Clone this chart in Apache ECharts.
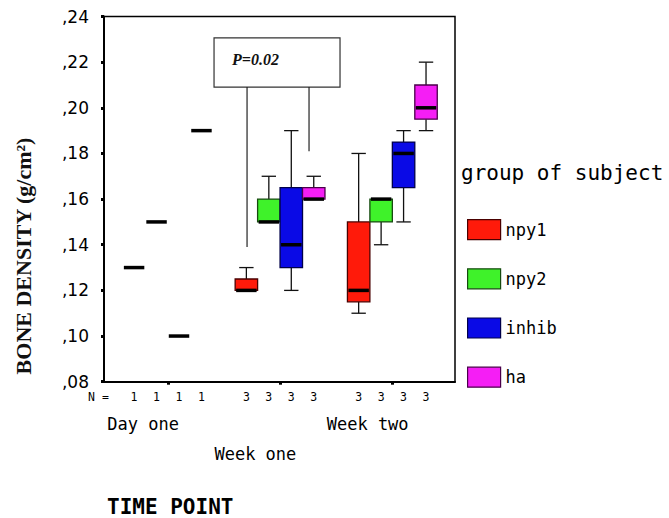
<!DOCTYPE html>
<html><head><meta charset="utf-8">
<script src="https://cdn.jsdelivr.net/npm/echarts@6/dist/echarts.min.js"></script>
<style>html,body{margin:0;padding:0;background:#fff}#c{width:669px;height:518px}</style>
</head><body><div id="c"></div>
<script>
// ---- data ----
const groups = ['Day one', 'Week one', 'Week two'];
const subjects = ['npy1', 'npy2', 'inhib', 'ha'];
const nCounts = [[1, 1, 1, 1], [3, 3, 3, 3], [3, 3, 3, 3]];
// five-number summaries [min, Q1, median, Q3, max] per time point
const npy1  = [[0.13, 0.13, 0.13, 0.13, 0.13], [0.12, 0.12, 0.12, 0.125, 0.13], [0.11, 0.115, 0.12, 0.15, 0.18]];
const npy2  = [[0.15, 0.15, 0.15, 0.15, 0.15], [0.15, 0.15, 0.15, 0.16, 0.17], [0.14, 0.15, 0.16, 0.16, 0.16]];
const inhib = [[0.10, 0.10, 0.10, 0.10, 0.10], [0.12, 0.13, 0.14, 0.165, 0.19], [0.15, 0.165, 0.18, 0.185, 0.19]];
const ha    = [[0.19, 0.19, 0.19, 0.19, 0.19], [0.16, 0.16, 0.16, 0.165, 0.17], [0.19, 0.195, 0.20, 0.21, 0.22]];
const yMin = 0.08, yMax = 0.24, yStep = 0.02;
const pText = 'P=0.02';
const pBox = [3.56, 9.17, 0.2091, 0.2306];      // x from, x to, y low, y high
const pLeads = [[5.03, 0.139], [7.79, 0.181]];  // lead line x, y end

// ---- styles / layout ----
const fills = ['#ff1a0a', '#3ff22a', '#0a0ae6', '#f51ef5'];
const edges = ['#4a0000', '#174a10', '#00004a', '#4a004a'];
const summaries = [npy1, npy2, inhib, ha];
const slotStep = subjects.length + 1;
const slotOf = (g, s) => g * slotStep + s;
const xMin = -1.34;
const xMax = slotOf(groups.length - 1, subjects.length - 1) + 1.29;
const groupCenters = groups.map((_, g) => slotOf(g, (subjects.length - 1) / 2));
const labelShift = 1.1;
const groupLabelPos = groupCenters.map(c => c - labelShift);
const slotVals = [], slotN = {};
groups.forEach((_, g) => subjects.forEach((__, s) => { const v = slotOf(g, s); slotVals.push(v); slotN[v] = nCounts[g][s]; }));
const MONO = '"DejaVu Sans Mono", monospace';

function renderBox(s) {
  return function (params, api) {
    const x = api.value(0);
    const P = i => api.coord([x, api.value(i)]);
    const lo = P(1), q1 = P(2), md = P(3), q3 = P(4), hi = P(5);
    const bw = api.size([1, 0])[0];
    const cx = lo[0], half = bw / 2, cap = bw * 0.32;
    const ln = (x1, y1, x2, y2, w, c) => ({ type: 'line', shape: { x1, y1, x2, y2 }, style: { stroke: c, lineWidth: w } });
    const ch = [];
    if (q3[1] - hi[1] > 0.5) { ch.push(ln(cx, q3[1], cx, hi[1], 1.3, '#111')); ch.push(ln(cx - cap, hi[1], cx + cap, hi[1], 1.3, '#111')); }
    if (lo[1] - q1[1] > 0.5) { ch.push(ln(cx, q1[1], cx, lo[1], 1.3, '#111')); ch.push(ln(cx - cap, lo[1], cx + cap, lo[1], 1.3, '#111')); }
    if (q1[1] - q3[1] > 0.5) ch.push({ type: 'rect', shape: { x: cx - half, y: q3[1], width: bw, height: q1[1] - q3[1] }, style: { fill: fills[s], stroke: edges[s], lineWidth: 1.3 } });
    ch.push(ln(cx - half + 1, md[1], cx + half - 1, md[1], 3.5, '#000'));
    return { type: 'group', children: ch };
  };
}

const series = subjects.map((name, s) => ({
  type: 'custom', name, xAxisIndex: 0, yAxisIndex: 0,
  itemStyle: { color: fills[s], borderColor: edges[s], borderWidth: 1.2 },
  encode: { x: 0, y: [1, 2, 3, 4, 5] },
  data: groups.map((_, g) => [slotOf(g, s)].concat(summaries[s][g])),
  renderItem: renderBox(s),
  silent: true
}));
series.push({
  type: 'custom', xAxisIndex: 0, yAxisIndex: 0, silent: true, z: 5,
  encode: { x: 0, y: 1 },
  data: [[pBox[0], pBox[3]]],
  renderItem: function (params, api) {
    const tl = api.coord([pBox[0], pBox[3]]), br = api.coord([pBox[1], pBox[2]]);
    const ch = [{ type: 'rect', shape: { x: tl[0], y: tl[1], width: br[0] - tl[0], height: br[1] - tl[1] }, style: { fill: '#fff', stroke: '#333', lineWidth: 1.2 } }];
    pLeads.forEach(([x, y]) => {
      const p = api.coord([x, y]);
      ch.push({ type: 'line', shape: { x1: p[0], y1: br[1], x2: p[0], y2: p[1] }, style: { stroke: '#222', lineWidth: 1.2 } });
    });
    ch.push({ type: 'text', x: tl[0] + 18, y: (tl[1] + br[1]) / 2 - 3, style: { text: pText, font: 'italic bold 16px "Liberation Serif"', verticalAlign: 'middle', fill: '#111' } });
    return { type: 'group', children: ch };
  }
});

const chart = echarts.init(document.getElementById('c'), null, { renderer: 'svg' });
chart.setOption({
  animation: false,
  backgroundColor: '#fff',
  title: [
    { text: 'group of subject', left: 461, top: 162, padding: 0, textStyle: { fontFamily: MONO, fontSize: 21, fontWeight: 'normal', color: '#000' } },
    { text: 'TIME POINT', left: 107, top: 496, padding: 0, textStyle: { fontFamily: MONO, fontSize: 21, fontWeight: 'bold', color: '#000' } }
  ],
  legend: {
    orient: 'vertical', left: 467, top: 219, padding: 0, itemWidth: 33, itemHeight: 20, itemGap: 28,
    icon: 'rect', selectedMode: false,
    textStyle: { fontFamily: MONO, fontSize: 17, color: '#000' },
    data: subjects.map((n, i) => ({ name: n, itemStyle: { color: fills[i], borderColor: edges[i], borderWidth: 1.2 } }))
  },
  grid: { left: 104, right: 214, top: 16.5, bottom: 136.3, show: true, borderColor: '#000', borderWidth: 1.5, containLabel: false, outerBoundsMode: 'none' },
  xAxis: [
    {
      type: 'value', min: xMin, max: xMax, position: 'bottom',
      axisLine: { show: true, onZero: false, lineStyle: { color: '#000', width: 2 } },
      axisTick: { show: true, customValues: groupCenters, length: 3, lineStyle: { color: '#000', width: 3 } },
      axisLabel: { show: false },
      splitLine: { show: false }
    },
    {
      type: 'value', min: xMin, max: xMax, position: 'bottom',
      axisLine: { show: false }, axisTick: { show: false }, splitLine: { show: false },
      axisLabel: {
        customValues: groupLabelPos, showMinLabel: true, showMaxLabel: true, hideOverlap: false,
        formatter: v => { const i = groupLabelPos.indexOf(v); return (i % 2 === 1 ? '\n\n' : '') + groups[i]; },
        fontFamily: MONO, fontSize: 17, color: '#000', margin: 35, lineHeight: 15
      }
    },
    {
      type: 'value', min: xMin, max: xMax, position: 'bottom',
      axisLine: { show: false }, axisTick: { show: false }, splitLine: { show: false },
      axisLabel: {
        customValues: [xMin].concat(slotVals), showMinLabel: true, showMaxLabel: true, hideOverlap: false,
        formatter: v => v === xMin ? '{n|N =}' : String(slotN[v]),
        fontFamily: MONO, fontSize: 11.5, color: '#000', margin: 9,
        rich: { n: { fontFamily: MONO, fontSize: 11.5, color: '#000', padding: [0, 11, 0, 0] } }
      }
    }
  ],
  yAxis: {
    type: 'value', min: yMin, max: yMax, interval: yStep,
    axisLine: { show: true, onZero: false, lineStyle: { color: '#000', width: 2 } },
    axisTick: { show: true, length: 3, lineStyle: { color: '#000', width: 3 } },
    splitLine: { show: false },
    axisLabel: { formatter: v => ',' + String(Math.round(v * 100)).padStart(2, '0'), fontFamily: '"DejaVu Sans", sans-serif', fontSize: 17, color: '#000', margin: 15 }
  },
  graphic: [{
    type: 'text', x: 23, y: 256, rotation: Math.PI / 2,
    style: { text: 'BONE DENSITY (g/cm²)', font: 'bold 22px "Liberation Serif", serif', align: 'center', verticalAlign: 'middle', fill: '#111' }
  }],
  series
});
</script></body></html>
